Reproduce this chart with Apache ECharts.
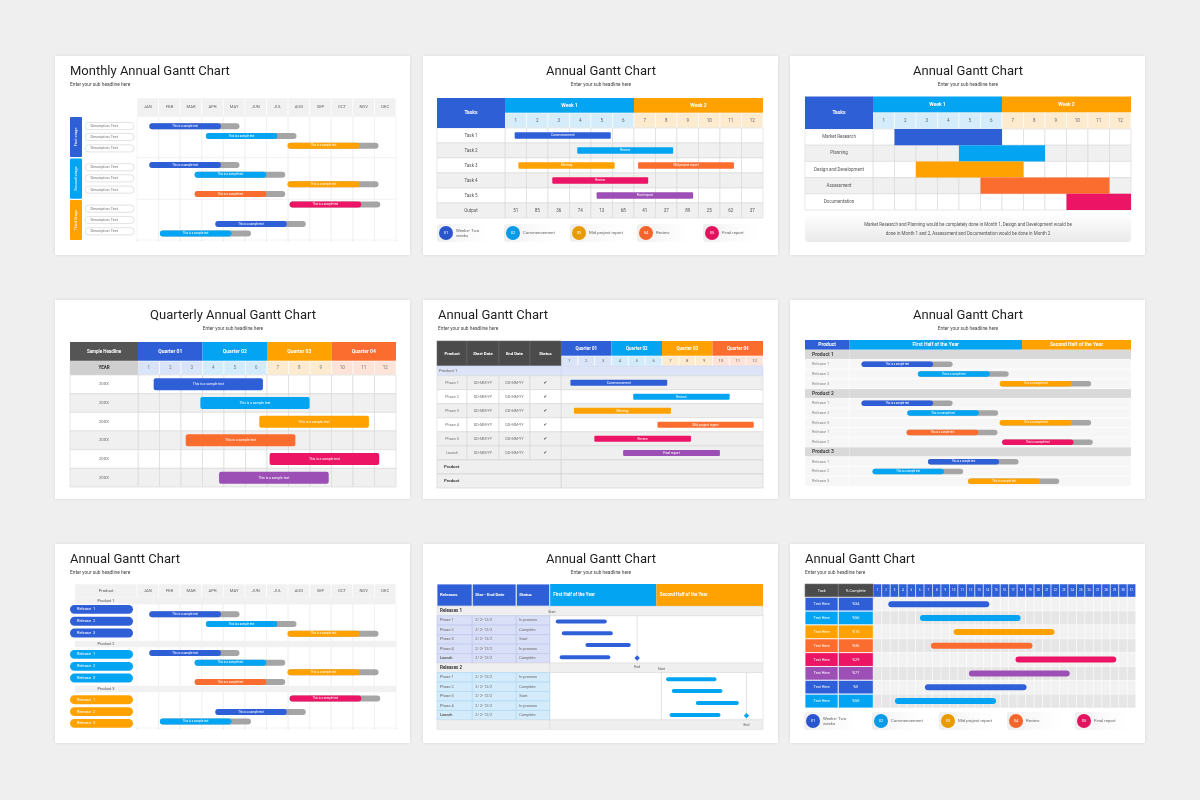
<!DOCTYPE html>
<html>
<head>
<meta charset="utf-8">
<title>Annual Gantt Chart</title>
<script src="https://cdn.jsdelivr.net/npm/echarts@6/dist/echarts.min.js"></script>
<style>
html, body { margin: 0; padding: 0; background: #efefef; }
#main { width: 1200px; height: 800px; }
</style>
</head>
<body>
<div id="main"></div>
<script>
var FONT = 'Roboto, "DejaVu Sans", sans-serif';
var BLUE = '#2f5fd7', CYAN = '#03a5f2', ORANGE = '#ffa200', RED = '#fb6c2f', PINK = '#ec1565', PURPLE = '#9c4fb5';
var TRACK = '#a5a5a5', DARK = '#4b4b4b';

// ---------- data ----------
var months = ['JAN', 'FEB', 'MAR', 'APR', 'MAY', 'JUN', 'JUL', 'AUG', 'SEP', 'OCT', 'NOV', 'DEC'];
var numbers12 = ['1', '2', '3', '4', '5', '6', '7', '8', '9', '10', '11', '12'];

// monthly gantt (top left) and product gantt (bottom left) share the bars
var monthlyStart = [0.57, 3.19, 6.98, 0.57, 2.67, 6.98, 2.67, 7.07, 3.63, 1.06];
var monthlyDone = [3.89, 6.5, 10.32, 3.89, 5.99, 10.32, 5.99, 10.39, 6.94, 4.38];
var monthlyEnd = [4.75, 7.39, 11.19, 4.75, 6.87, 11.19, 6.87, 11.27, 7.82, 5.28];
var monthlyColor = [BLUE, CYAN, ORANGE, BLUE, CYAN, ORANGE, RED, PINK, BLUE, CYAN];
var monthlyRow = [1, 2, 3, 5, 6, 7, 8, 9.1, 11.1, 12.1];
var stageNames = ['First stage', 'Second stage', 'Third Stage'];
var stageColor = [BLUE, CYAN, ORANGE];
var stageFrom = [0.03, 4.34, 8.62];
var stageTo = [4.17, 8.48, 12.76];
var descRow = [0.97, 2.1, 3.28, 5.24, 6.38, 7.55, 9.52, 10.69, 11.86];

var productRow = [1, 2, 3, 5, 6, 7, 8, 9.7, 11.1, 12.1];
var productNames = ['Product 1', 'Product 2', 'Product 3'];
var productBandFrom = [-0.76, 3.72, 8.38];
var productBandTo = [-0.07, 4.41, 9.07];
var releasePillRow = [0.48, 1.72, 2.93, 5.14, 6.38, 7.59, 9.83, 11.07, 12.28];
var releasePillName = ['Release  1', 'Release  2', 'Release  3', 'Release  1', 'Release  2', 'Release  3', 'Release  1', 'Release  2', 'Release  3'];
var releasePillColor = [BLUE, BLUE, BLUE, CYAN, CYAN, CYAN, ORANGE, ORANGE, ORANGE];

// weekly gantt (top middle)
var weekNames = ['Week 1', 'Week 2'];
var taskNames = ['Task 1', 'Task 2', 'Task 3', 'Task 4', 'Task 5', 'Output'];
var weekBarRow = [0, 1, 2, 2, 3, 4];
var weekBarStart = [0.45, 3.36, 0.62, 6.19, 2.2, 4.26];
var weekBarEnd = [4.92, 7.82, 5.1, 10.65, 6.66, 8.75];
var weekBarLabel = ['Commencement', 'Review', 'Meeting', 'Mid project report', 'Review', 'Final report'];
var weekBarColor = [BLUE, CYAN, ORANGE, RED, PINK, PURPLE];
var weekOutput = [51, 85, 36, 74, 13, 68, 41, 37, 89, 25, 62, 37];
var legendNums = ['01', '02', '03', '04', '05'];
var legendNames = ['Weeks- Two\nweeks', 'Commencement', 'Mid project report', 'Review', 'Final report'];
var legendColors = ['#2a55cc', '#0a9be6', '#e89b00', '#f4652b', '#e2145f'];

// plan gantt (top right)
var planTasks = ['Market Research', 'Planning', 'Design and Development', 'Assessment', 'Documentation'];
var planRow = [0, 1, 2, 3, 4];
var planStart = [1, 4, 2, 5, 9];
var planEnd = [6, 8, 7, 11, 12];
var planColor = [BLUE, CYAN, ORANGE, RED, PINK];
var planNote = ['Market Research and Planning would be completely done in Month 1, Design and Development would be',
  'done in Month 1 and 2, Assessment and Documentation would be done in Month 2'];

// quarterly gantt (middle left)
var quarterNames = ['Quarter 01', 'Quarter 02', 'Quarter 03', 'Quarter 04'];
var quarterColor = [BLUE, CYAN, ORANGE, RED];
var quarterTint = ['#dae4f8', '#d3ecfb', '#fdebd0', '#fde3d8'];
var yearLabels = ['20XX', '20XX', '20XX', '20XX', '20XX', '20XX'];
var qRow = [0, 1, 2, 3, 4, 5];
var qStart = [0.73, 2.9, 5.64, 2.22, 6.12, 3.77];
var qEnd = [5.81, 7.98, 10.74, 7.32, 11.22, 8.87];
var qColor = [BLUE, CYAN, ORANGE, RED, PINK, PURPLE];

// phase gantt (center)
var phaseCols = ['Product', 'Start Date', 'End Date', 'Status'];
var phaseNames = ['Phase 1', 'Phase 2', 'Phase 3', 'Phase 4', 'Phase 5', 'Launch'];
var phaseRow = [0, 1, 2, 3, 4, 5];
var phaseStart = [0.56, 4.29, 0.77, 5.73, 1.98, 3.69];
var phaseEnd = [6.31, 10.02, 6.53, 11.45, 7.72, 9.44];
var phaseLabel = ['Commencement', 'Review', 'Meeting', 'Mid project report', 'Review', 'Final report'];
var phaseColor = [BLUE, CYAN, ORANGE, RED, PINK, PURPLE];

// release gantt (middle right)
var halfNames = ['First Half of the Year', 'Second Half of the Year'];
var relProductRow = [0, 4, 10];
var relRow = [1, 2, 3, 5, 6, 7, 8, 9, 11, 12, 13];
var relName = ['Release 1', 'Release 2', 'Release 3', 'Release 1', 'Release 2', 'Release 3', 'Release 1', 'Release 2', 'Release 1', 'Release 2', 'Release 3'];
var relStart = [0.52, 2.92, 6.41, 0.52, 2.47, 6.41, 2.44, 6.51, 3.35, 0.99, 5.06];
var relDone = [3.57, 5.98, 9.49, 3.57, 5.52, 9.49, 5.5, 9.55, 6.38, 4.03, 8.13];
var relEnd = [4.4, 6.79, 10.3, 4.4, 6.34, 10.3, 6.31, 10.37, 7.21, 4.85, 8.94];
var relColor = [BLUE, CYAN, ORANGE, BLUE, CYAN, ORANGE, RED, PINK, BLUE, CYAN, ORANGE];

// releases timeline (bottom middle)
var rlsCols = ['Releases', 'Star - End Date', 'Status'];
var rlsGroups = ['Releases 1', 'Releases 2'];
var rlsPhase = ['Phase 1', 'Phase 2', 'Phase 3', 'Phase 4', 'Launch'];
var rlsDates = ['2/ 2- 12/2', '2/ 2- 12/2', '2/ 2- 12/2', '2/ 2- 12/2', '2/ 2- 12/2'];
var rlsStatus = ['In process', 'Complete', 'Start', 'In process', 'Complete'];
var rlsBarY = [1.62, 2.85, 4.08, 5.39, 7.71, 8.94, 10.21, 11.48];
var rlsBarStart = [0.34, 0.68, 2.01, 0.56, 6.55, 6.87, 8.22, 6.74];
var rlsBarEnd = [3.21, 3.55, 4.56, 3.41, 9.38, 9.72, 10.64, 9.61];
var rlsBarColor = [BLUE, BLUE, BLUE, BLUE, CYAN, CYAN, CYAN, CYAN];
var rlsStartX = [0.13, 6.28];
var rlsEndX = [4.92, 11.07];
var rlsEndY = [5.46, 11.55];

// daily gantt (bottom right)
var dayTasks = ['Text Here', 'Text Here', 'Text Here', 'Text Here', 'Text Here', 'Text Here', 'Text Here', 'Text Here'];
var dayPct = ['%34', '%56', '%15', '%36', '%29', '%77', '%0', '%55'];
var dayRow = [0, 1, 2, 3, 4, 5, 6, 7];
var dayStart = [1.77, 5.51, 9.49, 6.81, 16.8, 11.3, 6.1, 2.56];
var dayEnd = [13.7, 17.4, 21.4, 18.8, 28.7, 23.2, 18.1, 14.5];
var dayColor = [BLUE, CYAN, ORANGE, RED, PINK, PURPLE, BLUE, CYAN];

// ---------- helpers ----------
var grids = [], xAxes = [], yAxes = [], series = [], graphics = [];

function addGrid(l, t, w, h, x0, x1, y0, y1) {
  var i = grids.length;
  grids.push({left: l, top: t, width: w, height: h, show: false});
  xAxes.push({type: 'value', gridIndex: i, min: x0, max: x1, show: false});
  yAxes.push({type: 'value', gridIndex: i, min: y0, max: y1, inverse: true, show: false});
  return i;
}

function txt(text, size, color, bold, align) {
  return {text: text, fontSize: size, fill: color, fontWeight: bold ? 'bold' : 'normal', fontFamily: FONT,
    align: align, textAlign: align, verticalAlign: 'middle', textVerticalAlign: 'middle', lineHeight: size * 1.15};
}

// rectangles / text cells in axis units
function cells(g, items, z) {
  series.push({
    type: 'custom', xAxisIndex: g, yAxisIndex: g, z: z, silent: true,
    data: items.map(function (d) { return [d.x0, d.x1, d.y0, d.y1]; }),
    renderItem: function (params, api) {
      var d = items[params.dataIndex];
      var a = api.coord([api.value(0), api.value(2)]);
      var b = api.coord([api.value(1), api.value(3)]);
      var x = Math.min(a[0], b[0]), y = Math.min(a[1], b[1]);
      var w = Math.abs(b[0] - a[0]), h = Math.abs(b[1] - a[1]);
      var kids = [];
      if (d.fill || d.stroke) {
        kids.push({type: 'rect', shape: {x: x, y: y, width: w, height: h, r: d.r || 0},
          style: {fill: d.fill || 'none', stroke: d.stroke || 'none', lineWidth: d.stroke ? (d.lw || 0.6) : 0}});
      }
      if (d.text !== undefined && d.text !== null) {
        var pad = d.pad || 3;
        var al = d.align || 'center';
        var tx = al === 'left' ? x + pad : (al === 'right' ? x + w - pad : x + w / 2);
        kids.push({type: 'text', x: tx, y: y + h / 2, rotation: d.rot || 0,
          style: txt(String(d.text), d.size || 4.5, d.color || '#555', d.bold, al)});
      }
      return {type: 'group', children: kids};
    }
  });
}

function lines(g, list, z) {
  series.push({
    type: 'custom', xAxisIndex: g, yAxisIndex: g, z: z, silent: true,
    data: list.map(function (l) { return [l[0], l[1], l[2], l[3]]; }),
    renderItem: function (params, api) {
      var l = list[params.dataIndex];
      var a = api.coord([api.value(0), api.value(1)]);
      var b = api.coord([api.value(2), api.value(3)]);
      return {type: 'line', shape: {x1: a[0], y1: a[1], x2: b[0], y2: b[1]}, style: {stroke: l[4], lineWidth: l[5] || 0.6}};
    }
  });
}

// gantt bars: start/end in x units, row in y units, optional progress (done) with grey track
function bars(g, s, z) {
  var off = s.off || 0;
  series.push({
    type: 'custom', xAxisIndex: g, yAxisIndex: g, z: z || 5, silent: true,
    data: s.start.map(function (v, i) { return [v, s.end[i], s.row[i] + off, s.done ? s.done[i] : s.end[i]]; }),
    renderItem: function (params, api) {
      var i = params.dataIndex;
      var a = api.coord([api.value(0), api.value(2)]);
      var b = api.coord([api.value(1), api.value(2)]);
      var d = api.coord([api.value(3), api.value(2)]);
      var h = s.h, y = a[1] - h / 2;
      var r = s.r === undefined ? h / 2 : s.r;
      var kids = [];
      if (s.done) kids.push({type: 'rect', shape: {x: a[0], y: y, width: b[0] - a[0], height: h, r: r}, style: {fill: TRACK}});
      kids.push({type: 'rect', shape: {x: a[0], y: y, width: d[0] - a[0], height: h, r: r}, style: {fill: s.color[i]}});
      if (s.label) {
        var lab = typeof s.label === 'string' ? s.label : s.label[i];
        kids.push({type: 'text', x: (a[0] + d[0]) / 2, y: a[1], style: txt(lab, s.size, '#fff', false, 'center')});
      }
      return {type: 'group', children: kids};
    }
  });
}

function heading(ox, oy, title, centered) {
  var x = ox + (centered ? 178 : 15), al = centered ? 'center' : 'left';
  graphics.push({type: 'text', x: x, y: oy + 16, z: 50, style: txt(title, 13, '#1e1e1e', false, al)});
  graphics.push({type: 'text', x: x, y: oy + 29, z: 50, style: txt('Enter your sub headline here', 4.8, '#444', false, al)});
}

function legend(ox, y, xs) {
  xs.forEach(function (x, i) {
    graphics.push({type: 'rect', z: 0, shape: {x: ox + x - 9, y: y - 9, width: 66, height: 18, r: 3},
      style: {fill: {type: 'linear', x: 0, y: 0, x2: 1, y2: 0, colorStops: [{offset: 0, color: '#eeeeee'}, {offset: 1, color: 'rgba(255,255,255,0)'}]}}});
    graphics.push({type: 'circle', z: 1, shape: {cx: ox + x, cy: y, r: 7}, style: {fill: legendColors[i]}});
    graphics.push({type: 'text', z: 2, x: ox + x, y: y, style: txt(legendNums[i], 4, '#fff', false, 'center')});
    graphics.push({type: 'text', z: 2, x: ox + x + 10, y: y, style: txt(legendNames[i], 4.3, '#666', false, 'left')});
  });
}

// cards
[55, 423, 790].forEach(function (x) {
  [56, 300, 544].forEach(function (y) {
    graphics.push({type: 'rect', z: -10, shape: {x: x, y: y, width: 355, height: 199},
      style: {fill: '#ffffff', shadowBlur: 3, shadowColor: 'rgba(0,0,0,0.10)'}});
  });
});

// ---------- panel 1: Monthly Annual Gantt Chart ----------
(function () {
  var ox = 55, oy = 56, y0 = -1.93, y1 = 12.76;
  heading(ox, oy, 'Monthly Annual Gantt Chart', false);
  var g = addGrid(ox + 82, oy + 42, 259, 142, 0, 12, y0, y1);
  var L = addGrid(ox + 15, oy + 42, 67, 142, 0, 67, y0, y1);
  var c = [], t = [];
  months.forEach(function (m, i) {
    c.push({x0: i, x1: i + 1, y0: y0, y1: 0, fill: '#f1f1f1', stroke: '#ffffff', text: m, size: 4.2, color: '#666'});
    c.push({x0: i, x1: i + 1, y0: 0, y1: y1, stroke: '#efefef'});
  });
  for (var i = 0; i <= 12; i++) t.push([i, y1, i, y1 + 0.12, '#cccccc']);
  t.push([0, 4.24, 12, 4.24, '#e8e8e8'], [0, 8.55, 12, 8.55, '#e8e8e8']);
  cells(g, c, 1);
  lines(g, t, 2);
  bars(g, {row: monthlyRow, start: monthlyStart, end: monthlyEnd, done: monthlyDone, color: monthlyColor,
    label: 'This is a sample text', h: 6, size: 2.8});
  var l = [];
  stageNames.forEach(function (s, k) {
    l.push({x0: 0, x1: 12, y0: stageFrom[k], y1: stageTo[k], fill: stageColor[k], r: 1, text: s, rot: Math.PI / 2, color: '#fff', size: 4});
  });
  descRow.forEach(function (r) {
    l.push({x0: 15, x1: 64, y0: r - 0.37, y1: r + 0.37, fill: '#fff', stroke: '#cfcfcf', r: 3.5,
      text: 'Description Text', align: 'left', pad: 5.5, size: 3.8, color: '#777'});
  });
  cells(L, l, 3);
})();

// ---------- panel 2: weekly Annual Gantt Chart ----------
(function () {
  var ox = 423, oy = 56;
  heading(ox, oy, 'Annual Gantt Chart', true);
  var g = addGrid(ox + 82, oy + 42, 258, 120, 0, 12, -2, 6);
  var L = addGrid(ox + 14, oy + 42, 68, 120, 0, 1, -2, 6);
  var c = [], l = [];
  weekNames.forEach(function (w, i) {
    c.push({x0: 6 * i, x1: 6 * i + 6, y0: -2, y1: -1, fill: i ? ORANGE : CYAN, text: w, bold: true, color: '#fff', size: 5});
  });
  numbers12.forEach(function (n, i) {
    c.push({x0: i, x1: i + 1, y0: -1, y1: 0, fill: i < 6 ? '#d5ecfb' : '#fdebd0', stroke: '#ffffff', text: n, size: 4.5, color: '#666'});
  });
  for (var r = 0; r < taskNames.length; r++) {
    for (var k = 0; k < 12; k++) {
      c.push({x0: k, x1: k + 1, y0: r, y1: r + 1, fill: r % 2 ? '#f0f0f0' : '#ffffff', stroke: '#d9d9d9',
        text: r === 5 ? weekOutput[k] : null, size: 4.5, color: '#555'});
    }
    l.push({x0: 0, x1: 1, y0: r, y1: r + 1, fill: r % 2 ? '#f0f0f0' : '#ffffff', stroke: '#d9d9d9', text: taskNames[r], size: 4.5, color: '#555'});
  }
  l.push({x0: 0, x1: 1, y0: -2, y1: 0, fill: BLUE, text: 'Tasks', bold: true, color: '#fff', size: 5});
  cells(g, c, 1);
  cells(L, l, 1);
  bars(g, {row: weekBarRow, off: 0.5, start: weekBarStart, end: weekBarEnd, color: weekBarColor,
    label: weekBarLabel, h: 6.5, r: 1, size: 3.2});
  legend(ox, oy + 177, [23, 90, 156, 223, 289]);
})();

// ---------- panel 3: plan Annual Gantt Chart ----------
(function () {
  var ox = 790, oy = 56;
  heading(ox, oy, 'Annual Gantt Chart', true);
  var g = addGrid(ox + 83, oy + 40.6, 258, 113.4, 0, 12, -2, 5);
  var L = addGrid(ox + 15, oy + 40.6, 68, 113.4, 0, 1, -2, 5);
  var c = [], l = [];
  weekNames.forEach(function (w, i) {
    c.push({x0: 6 * i, x1: 6 * i + 6, y0: -2, y1: -1, fill: i ? ORANGE : CYAN, text: w, bold: true, color: '#fff', size: 5});
  });
  numbers12.forEach(function (n, i) {
    c.push({x0: i, x1: i + 1, y0: -1, y1: 0, fill: i < 6 ? '#d5ecfb' : '#fdebd0', stroke: '#ffffff', text: n, size: 4.5, color: '#666'});
  });
  planTasks.forEach(function (name, r) {
    for (var k = 0; k < 12; k++) {
      c.push({x0: k, x1: k + 1, y0: r, y1: r + 1, fill: r % 2 ? '#f0f0f0' : '#ffffff', stroke: '#d9d9d9'});
    }
    l.push({x0: 0, x1: 1, y0: r, y1: r + 1, fill: r % 2 ? '#f0f0f0' : '#ffffff', stroke: '#d9d9d9', text: name, size: 4.5, color: '#555'});
  });
  l.push({x0: 0, x1: 1, y0: -2, y1: 0, fill: BLUE, text: 'Tasks', bold: true, color: '#fff', size: 5});
  cells(g, c, 1);
  cells(L, l, 1);
  cells(g, planStart.map(function (s, i) {
    return {x0: s, x1: planEnd[i], y0: planRow[i], y1: planRow[i] + 1, fill: planColor[i]};
  }), 4);
  graphics.push({type: 'rect', z: 0, shape: {x: ox + 15, y: oy + 158, width: 326, height: 28, r: 4},
    style: {fill: {type: 'linear', x: 0, y: 0, x2: 0, y2: 1, colorStops: [{offset: 0, color: '#ffffff'}, {offset: 1, color: '#e9e9e9'}]}}});
  planNote.forEach(function (s, i) {
    graphics.push({type: 'text', z: 2, x: ox + 178, y: oy + 168.7 + 9 * i, style: txt(s, 4.5, '#555', false, 'center')});
  });
})();

// ---------- panel 4: Quarterly Annual Gantt Chart ----------
(function () {
  var ox = 55, oy = 300, y0 = -1.77;
  heading(ox, oy, 'Quarterly Annual Gantt Chart', true);
  var g = addGrid(ox + 83, oy + 42, 258, 145, 0, 12, y0, 6);
  var L = addGrid(ox + 15, oy + 42, 68, 145, 0, 1, y0, 6);
  var c = [], l = [];
  l.push({x0: 0, x1: 1, y0: y0, y1: -0.75, fill: '#555555', text: 'Sample Headline', bold: true, color: '#fff', size: 4.5});
  l.push({x0: 0, x1: 1, y0: -0.75, y1: 0, fill: '#cfcfcf', stroke: '#d6d6d6', text: 'YEAR', bold: true, color: '#333', size: 4.5});
  quarterNames.forEach(function (q, i) {
    c.push({x0: 3 * i, x1: 3 * i + 3, y0: y0, y1: -0.75, fill: quarterColor[i], text: q, bold: true, color: '#fff', size: 5});
  });
  numbers12.forEach(function (n, i) {
    c.push({x0: i, x1: i + 1, y0: -0.75, y1: 0, fill: quarterTint[Math.floor(i / 3)], stroke: '#ffffff', text: n, size: 4.5, color: '#777'});
  });
  yearLabels.forEach(function (yl, r) {
    var f = r % 2 ? '#f0f0f0' : '#ffffff';
    l.push({x0: 0, x1: 1, y0: r, y1: r + 1, fill: f, stroke: '#d6d6d6', text: yl, size: 4.2, color: '#666'});
    for (var k = 0; k < 12; k++) c.push({x0: k, x1: k + 1, y0: r, y1: r + 1, fill: f, stroke: '#d6d6d6'});
  });
  cells(g, c, 1);
  cells(L, l, 1);
  bars(g, {row: qRow, off: 0.5, start: qStart, end: qEnd, color: qColor, label: 'This is a sample text', h: 12, r: 2, size: 3.4});
})();

// ---------- panel 5: phase Annual Gantt Chart ----------
(function () {
  var ox = 423, oy = 300, y0 = -2.47;
  heading(ox, oy, 'Annual Gantt Chart', false);
  var g = addGrid(ox + 138, oy + 41, 202, 147, 0, 12, y0, 8);
  var L = addGrid(ox + 14, oy + 41, 124, 147, 0, 124, y0, 8);
  var edges = [0, 30, 62, 93, 124];
  var phaseFill = ['#efefef', '#ffffff', '#efefef', '#ffffff', '#efefef', '#efefef'];
  var c = [], l = [];
  phaseCols.forEach(function (h, i) {
    l.push({x0: edges[i], x1: edges[i + 1], y0: y0, y1: -0.69, fill: DARK, stroke: '#6a6a6a', text: h, bold: true, color: '#fff', size: 4.3});
  });
  quarterNames.forEach(function (q, i) {
    c.push({x0: 3 * i, x1: 3 * i + 3, y0: y0, y1: -1.4, fill: quarterColor[i], text: q, bold: true, color: '#fff', size: 4.5});
  });
  numbers12.forEach(function (n, i) {
    c.push({x0: i, x1: i + 1, y0: -1.4, y1: -0.69, fill: quarterTint[Math.floor(i / 3)], stroke: '#ffffff', text: n, size: 4.2, color: '#666'});
  });
  l.push({x0: 0, x1: 124, y0: -0.69, y1: 0, fill: '#dde4f7', stroke: '#c9d3f0', text: 'Product 1', align: 'left', pad: 2, size: 4.3, color: '#666'});
  c.push({x0: 0, x1: 12, y0: -0.69, y1: 0, fill: '#dde4f7', stroke: '#c9d3f0'});
  phaseNames.forEach(function (p, r) {
    var f = phaseFill[r];
    [p, 'DD-MM-YY', 'DD-MM-YY', '\u2714'].forEach(function (t, k) {
      l.push({x0: edges[k], x1: edges[k + 1], y0: r, y1: r + 1, fill: f, stroke: '#d6d6d6', text: t,
        size: k === 3 ? 4.5 : 3.8, color: k === 3 ? '#444' : '#777'});
    });
    c.push({x0: 0, x1: 12, y0: r, y1: r + 1, fill: f, stroke: '#d6d6d6'});
  });
  [6, 7].forEach(function (r) {
    l.push({x0: 0, x1: 124, y0: r, y1: r + 1, fill: '#efefef', stroke: '#d0d0d0', text: 'Product', bold: true, align: 'left', pad: 7, size: 4.3, color: '#444'});
    c.push({x0: 0, x1: 12, y0: r, y1: r + 1, fill: '#efefef', stroke: '#d0d0d0'});
  });
  cells(g, c, 1);
  cells(L, l, 2);
  bars(g, {row: phaseRow, off: 0.5, start: phaseStart, end: phaseEnd, color: phaseColor, label: phaseLabel, h: 6, r: 1, size: 3.3});
})();

// ---------- panel 6: release Annual Gantt Chart ----------
(function () {
  var ox = 790, oy = 300, split = 7.36;
  heading(ox, oy, 'Annual Gantt Chart', true);
  var g = addGrid(ox + 59.3, oy + 39.96, 281.7, 146.04, 0, 12, -1, 14);
  var L = addGrid(ox + 15, oy + 39.96, 44.3, 146.04, 0, 1, -1, 14);
  var c = [], l = [];
  l.push({x0: 0, x1: 1, y0: -1, y1: 0, fill: BLUE, text: 'Product', bold: true, color: '#fff', size: 5});
  c.push({x0: 0, x1: split, y0: -1, y1: 0, fill: CYAN, text: halfNames[0], bold: true, color: '#fff', size: 5});
  c.push({x0: split, x1: 12, y0: -1, y1: 0, fill: ORANGE, text: halfNames[1], bold: true, color: '#fff', size: 5});
  productNames.forEach(function (p, i) {
    var r = relProductRow[i];
    l.push({x0: 0, x1: 1, y0: r, y1: r + 1, fill: '#d9d9d9', text: p, bold: true, align: 'left', pad: 7, color: '#444', size: 5});
    c.push({x0: 0, x1: 12, y0: r, y1: r + 1, fill: '#d9d9d9'});
  });
  relRow.forEach(function (r, i) {
    l.push({x0: 0, x1: 1, y0: r, y1: r + 1, fill: '#f6f6f6', stroke: '#ffffff', text: relName[i], align: 'left', pad: 7, color: '#888', size: 4});
    c.push({x0: 0, x1: 12, y0: r, y1: r + 1, fill: '#f6f6f6', stroke: '#ffffff'});
  });
  cells(g, c, 1);
  cells(L, l, 2);
  bars(g, {row: relRow, off: 0.5, start: relStart, end: relEnd, done: relDone, color: relColor,
    label: 'This is a sample text', h: 5.5, size: 2.6});
})();

// ---------- panel 7: product Annual Gantt Chart ----------
(function () {
  var ox = 55, oy = 544, y0 = -2.14, y1 = 12.76;
  heading(ox, oy, 'Annual Gantt Chart', false);
  var g = addGrid(ox + 82, oy + 40, 259, 144, 0, 12, y0, y1);
  var L = addGrid(ox + 15, oy + 40, 67, 144, 0, 67, y0, y1);
  var c = [], l = [], t = [];
  months.forEach(function (m, i) {
    c.push({x0: i, x1: i + 1, y0: y0, y1: -0.76, fill: '#f1f1f1', stroke: '#ffffff', text: m, size: 4.2, color: '#666'});
    c.push({x0: i, x1: i + 1, y0: -0.07, y1: y1, stroke: '#efefef'});
  });
  for (var i = 0; i <= 12; i++) t.push([i, y1, i, y1 + 0.12, '#cccccc']);
  l.push({x0: 5, x1: 67, y0: y0, y1: -0.76, fill: '#f1f1f1', stroke: '#ffffff', text: 'Product', size: 4.2, color: '#555'});
  productNames.forEach(function (p, k) {
    c.push({x0: 0, x1: 12, y0: productBandFrom[k], y1: productBandTo[k], fill: '#f1f1f1'});
    l.push({x0: 5, x1: 67, y0: productBandFrom[k], y1: productBandTo[k], fill: '#f1f1f1', text: p, size: 4, color: '#555'});
  });
  releasePillRow.forEach(function (r, k) {
    l.push({x0: 0, x1: 63, y0: r - 0.46, y1: r + 0.46, fill: releasePillColor[k], r: 4.5,
      text: releasePillName[k], align: 'left', pad: 7, size: 4, color: '#fff'});
  });
  cells(g, c, 1);
  lines(g, t, 2);
  cells(L, l, 2);
  bars(g, {row: productRow, start: monthlyStart, end: monthlyEnd, done: monthlyDone, color: monthlyColor,
    label: 'This is a sample text', h: 6, size: 2.8});
})();

// ---------- panel 8: releases timeline ----------
(function () {
  var ox = 423, oy = 544, y0 = -2.35;
  heading(ox, oy, 'Annual Gantt Chart', true);
  var g = addGrid(ox + 126.7, oy + 40, 213.3, 145.4, 0, 12, y0, 13);
  var L = addGrid(ox + 14, oy + 40, 112.7, 145.4, 0, 112.7, y0, 13);
  var edges = [0, 35.3, 79.3, 112.7];
  var c = [], l = [], t = [], m = [];
  rlsCols.forEach(function (h, i) {
    l.push({x0: edges[i], x1: edges[i + 1], y0: y0, y1: 0, fill: BLUE, stroke: '#ffffff', lw: 0.8, text: h, bold: true, align: 'left', pad: 3, color: '#fff', size: 4.3});
  });
  halfNames.forEach(function (h, i) {
    c.push({x0: 6 * i, x1: 6 * i + 6, y0: y0, y1: 0, fill: i ? ORANGE : CYAN, text: h, bold: true, align: 'left', pad: 3.5, color: '#fff', size: 4.5});
  });
  rlsGroups.forEach(function (name, gi) {
    var top = gi * 6;
    var tint = gi ? '#d3ebfb' : '#d9dff6', edge = gi ? '#a9d6f3' : '#b9c4ec';
    l.push({x0: 0, x1: 112.7, y0: top, y1: top + 1, fill: '#efefef', stroke: '#dcdcdc', text: name, bold: true, align: 'left', pad: 3, color: '#333', size: 4.5});
    c.push({x0: 0, x1: 12, y0: top, y1: top + 1, fill: '#efefef', stroke: '#dcdcdc'});
    rlsPhase.forEach(function (p, k) {
      var r = top + 1 + k;
      [p, rlsDates[k], rlsStatus[k]].forEach(function (s, j) {
        l.push({x0: edges[j], x1: edges[j + 1], y0: r, y1: r + 1, fill: tint, stroke: edge, text: s, align: 'left', pad: 3,
          bold: p === 'Launch' && j === 0, size: 3.8, color: '#666'});
      });
    });
    c.push({x0: 0, x1: 12, y0: top + 1, y1: top + 6, fill: '#ffffff', stroke: '#d8d8d8'});
    if (gi > 0) t.push([rlsStartX[gi], top + 1, rlsStartX[gi], top + 6, '#cfcfcf']);
    t.push([rlsEndX[gi], top + 1, rlsEndX[gi], top + 6, '#cfcfcf']);
    m.push({x0: rlsStartX[gi] - 0.6, x1: rlsStartX[gi] + 0.6, y0: top, y1: top + 1.2, text: 'Start', size: 3.4, color: '#555'});
    m.push({x0: rlsEndX[gi] - 0.6, x1: rlsEndX[gi] + 0.6, y0: rlsEndY[gi] + 0.45, y1: rlsEndY[gi] + 1.45, text: 'End', size: 3.4, color: '#555'});
  });
  l.push({x0: 0, x1: 112.7, y0: 12, y1: 13, fill: '#efefef', stroke: '#dcdcdc'});
  c.push({x0: 0, x1: 12, y0: 12, y1: 13, fill: '#efefef', stroke: '#dcdcdc'});
  cells(g, c, 1);
  cells(L, l, 2);
  lines(g, t, 3);
  cells(g, m, 7);
  bars(g, {row: rlsBarY, start: rlsBarStart, end: rlsBarEnd, color: rlsBarColor, h: 4, r: 2});
  series.push({
    type: 'custom', xAxisIndex: g, yAxisIndex: g, z: 6, silent: true,
    data: rlsEndX.map(function (x, i) { return [x, rlsEndY[i]]; }),
    renderItem: function (params, api) {
      var p = api.coord([api.value(0), api.value(1)]), s = 2.7;
      return {type: 'polygon', shape: {points: [[p[0], p[1] - s], [p[0] + s, p[1]], [p[0], p[1] + s], [p[0] - s, p[1]]]},
        style: {fill: params.dataIndex ? CYAN : BLUE}};
    }
  });
})();

// ---------- panel 9: daily Annual Gantt Chart ----------
(function () {
  var ox = 790, oy = 544, y0 = -0.96;
  heading(ox, oy, 'Annual Gantt Chart', false);
  var g = addGrid(ox + 83.3, oy + 40, 262.4, 124, 0, 31, y0, 8);
  var L = addGrid(ox + 15, oy + 40, 68.3, 124, 0, 68.3, y0, 8);
  var edges = [0, 33.3, 68.3];
  var c = [], l = [];
  ['Task', '% Complete'].forEach(function (h, i) {
    l.push({x0: edges[i], x1: edges[i + 1], y0: y0, y1: 0, fill: DARK, stroke: '#777777', text: h, color: '#fff', size: 3.8});
  });
  for (var d = 0; d < 31; d++) {
    c.push({x0: d, x1: d + 1, y0: y0, y1: 0, fill: BLUE, stroke: '#ffffff', lw: 0.5, text: String(d + 1), color: '#fff', size: 2.9});
  }
  dayTasks.forEach(function (name, r) {
    [name, dayPct[r]].forEach(function (s, j) {
      l.push({x0: edges[j], x1: edges[j + 1], y0: r, y1: r + 1, fill: dayColor[r], stroke: '#ffffff', lw: 0.8, text: s, color: '#fff', size: 3.8});
    });
    for (var k = 0; k < 31; k++) {
      c.push({x0: k, x1: k + 1, y0: r, y1: r + 1, fill: r % 2 ? '#e6e6e6' : '#f2f2f2', stroke: '#ffffff', lw: 0.4});
    }
  });
  cells(g, c, 1);
  cells(L, l, 2);
  bars(g, {row: dayRow, off: 0.5, start: dayStart, end: dayEnd, color: dayColor, h: 6});
  legend(ox, oy + 177, [23, 91, 158, 226, 294]);
})();

var chart = echarts.init(document.getElementById('main'));
chart.setOption({
  backgroundColor: '#efefef',
  animation: false,
  grid: grids,
  xAxis: xAxes,
  yAxis: yAxes,
  series: series,
  graphic: {elements: graphics}
});
</script>
</body>
</html>
